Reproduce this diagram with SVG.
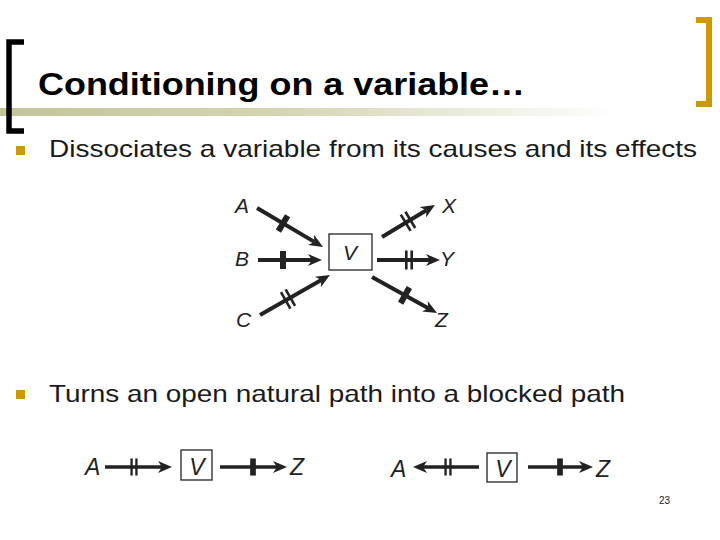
<svg xmlns="http://www.w3.org/2000/svg" xmlns:xlink="http://www.w3.org/1999/xlink" width="720" height="540" viewBox="0 0 720 540">
<style>
.title{font-family:"Liberation Sans",Arial,sans-serif;font-weight:bold;font-size:32px;fill:#000}
.body{font-family:"Liberation Sans",Arial,sans-serif;font-size:24px;fill:#1a1a1a}
.lbl{font-family:"Liberation Sans",Arial,sans-serif;font-style:italic;font-size:21px;fill:#222}
.lbl2{font-family:"Liberation Sans",Arial,sans-serif;font-style:italic;font-size:23px;fill:#222}
.arr{stroke:#222;stroke-width:4;fill:none;marker-end:url(#head)}
.arr2{stroke:#222;stroke-width:3.5;fill:none;marker-end:url(#head)}
.box{fill:#fff;stroke:#222;stroke-width:1.3}
.bullet{fill:#CC9900}
.bar{fill:#222}
</style>
<defs>
<linearGradient id="fade" x1="0" y1="0" x2="1" y2="0">
<stop offset="0" stop-color="#c4c49a"/>
<stop offset="0.45" stop-color="#d4d4b4"/>
<stop offset="1" stop-color="#ffffff"/>
</linearGradient>
<marker id="head" markerUnits="userSpaceOnUse" viewBox="0 -6 14 12" refX="4" refY="0" markerWidth="14" markerHeight="12" orient="auto">
<path d="M0,-6 L14,0 L0,6 L4,0 z" fill="#222"/>
</marker>
<g id="bar1"><rect class="bar" x="-3" y="-9" width="6" height="18"/></g>
<g id="bar2"><rect class="bar" x="-4" y="-9.5" width="2.6" height="19"/><rect class="bar" x="1.4" y="-9.5" width="2.6" height="19"/></g>
</defs>
<rect width="720" height="540" fill="#fff"/>

<!-- decoration -->
<rect x="0" y="108" width="620" height="8" fill="url(#fade)"/>
<path d="M24,42 H9 V131 H24" fill="none" stroke="#000" stroke-width="5.5"/>
<path d="M696,20 H709 V104 H696" fill="none" stroke="#CC9900" stroke-width="6"/>

<text class="title" x="38" y="95" textLength="487" lengthAdjust="spacingAndGlyphs">Conditioning on a variable…</text>

<rect class="bullet" x="16" y="146" width="9" height="9"/>
<text class="body" x="49" y="157" textLength="648" lengthAdjust="spacingAndGlyphs">Dissociates a variable from its causes and its effects</text>

<rect class="bullet" x="16" y="390" width="9" height="9"/>
<text class="body" x="49" y="402" textLength="576" lengthAdjust="spacingAndGlyphs">Turns an open natural path into a blocked path</text>

<text x="659" y="504" font-family="Liberation Sans, Arial, sans-serif" font-size="10" fill="#222">23</text>

<!-- top diagram nodes -->
<g id="nodeA"><text class="lbl" x="235" y="213">A</text></g>
<g id="nodeB"><text class="lbl" x="235" y="266">B</text></g>
<g id="nodeC"><text class="lbl" x="236" y="327">C</text></g>
<g id="nodeX"><text class="lbl" x="442" y="213">X</text></g>
<g id="nodeY"><text class="lbl" x="440" y="266">Y</text></g>
<g id="nodeZ"><text class="lbl" x="435" y="327">Z</text></g>
<g id="nodeV"><rect class="box" x="329" y="234" width="43" height="36"/><text class="lbl" x="350" y="260" text-anchor="middle">V</text></g>

<!-- bottom diagram 1 nodes -->
<g id="nodeA1"><text class="lbl2" x="85" y="475">A</text></g>
<g id="nodeV1"><rect class="box" x="181" y="450" width="31" height="30"/><text class="lbl2" x="197" y="475" text-anchor="middle">V</text></g>
<g id="nodeZ1"><text class="lbl2" x="290" y="475">Z</text></g>

<!-- bottom diagram 2 nodes -->
<g id="nodeA2"><text class="lbl2" x="391" y="477">A</text></g>
<g id="nodeV2"><rect class="box" x="487" y="453" width="30" height="29"/><text class="lbl2" x="503" y="477" text-anchor="middle">V</text></g>
<g id="nodeZ2"><text class="lbl2" x="596" y="477">Z</text></g>

<!-- connectors -->
<g id="connectors">
<line class="arr" x1="257" y1="208" x2="314.4" y2="241.9"/>
<use xlink:href="#bar1" transform="translate(283,223.4) rotate(30.6)"/>
<line class="arr" x1="258" y1="260" x2="312" y2="260"/>
<use xlink:href="#bar1" transform="translate(283,260)"/>
<line class="arr" x1="260" y1="315" x2="321.3" y2="280"/>
<use xlink:href="#bar2" transform="translate(288,299) rotate(-29.7)"/>
<line class="arr" x1="382" y1="237" x2="426.4" y2="210.2"/>
<use xlink:href="#bar2" transform="translate(408,221.3) rotate(-31.1)"/>
<line class="arr" x1="377" y1="260" x2="430" y2="260"/>
<use xlink:href="#bar2" transform="translate(409,260)"/>
<line class="arr" x1="372" y1="277" x2="428.3" y2="308.2"/>
<use xlink:href="#bar1" transform="translate(405,295.3) rotate(29)"/>

<line class="arr2" x1="105" y1="467" x2="162" y2="467"/>
<use xlink:href="#bar2" transform="translate(134,467) scale(0.9)"/>
<line class="arr2" x1="220" y1="467" x2="277" y2="467"/>
<use xlink:href="#bar1" transform="translate(253,467) scale(0.95)"/>

<line class="arr2" x1="479" y1="467" x2="423" y2="467"/>
<use xlink:href="#bar2" transform="translate(448,467) scale(0.9)"/>
<line class="arr2" x1="528" y1="467" x2="583" y2="467"/>
<use xlink:href="#bar1" transform="translate(560,467) scale(0.95)"/>
</g>
</svg>
